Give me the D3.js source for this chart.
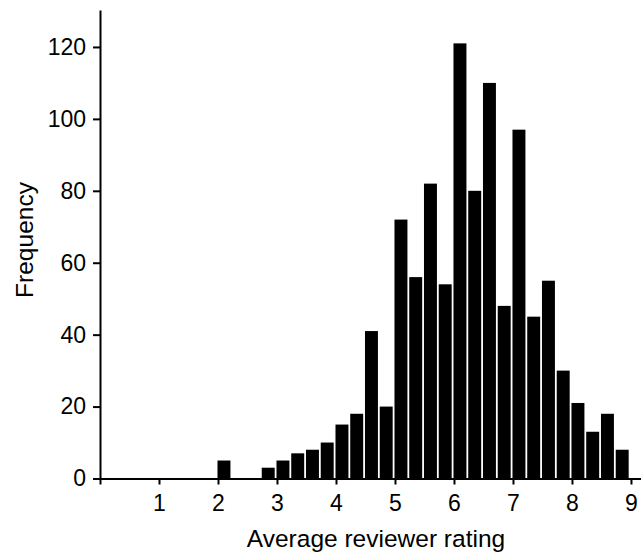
<!DOCTYPE html>
<html>
<head>
<meta charset="utf-8">
<script src="https://cdn.jsdelivr.net/npm/d3@7"></script>
<style>
  html, body { margin: 0; padding: 0; background: #fff; }
  svg { display: block; font-family: "Liberation Sans", Arial, Helvetica, sans-serif; }
  .axis path, .axis line { stroke: #000; stroke-width: 2px; }
  .axis text { fill: #000; font-size: 23px; }
  .label { fill: #000; font-size: 24.5px; }
</style>
</head>
<body>
<svg id="chart" width="641" height="554"></svg>
<script>
// histogram bins (lower edge of each 0.25-wide bin) and counts
const binWidth = 0.25;
const binStarts = [2.0, 2.25, 2.5, 2.75, 3.0, 3.25, 3.5, 3.75, 4.0, 4.25, 4.5, 4.75,
                   5.0, 5.25, 5.5, 5.75, 6.0, 6.25, 6.5, 6.75, 7.0, 7.25, 7.5, 7.75,
                   8.0, 8.25, 8.5, 8.75];
const counts = [5, 0, 0, 3, 5, 7, 8, 10, 15, 18, 41, 20,
                72, 56, 82, 54, 121, 80, 110, 48, 97, 45, 55, 30,
                21, 13, 18, 8];
const xTicks = [0, 1, 2, 3, 4, 5, 6, 7, 8, 9];
const yTicks = [0, 20, 40, 60, 80, 100, 120];

const svg = d3.select("#chart");

// scales: x(0)=100, x(9)=631, axis line runs to the right edge
const x = d3.scaleLinear().domain([0, 9.17]).range([100, 641]);
const y = d3.scaleLinear().domain([0, 130]).range([478.5, 11]);

const bins = binStarts.map((b, i) => ({ x0: b, x1: b + binWidth, n: counts[i] }));

// bars
svg.append("g")
    .selectAll("rect")
    .data(bins.filter(d => d.n > 0))
    .enter().append("rect")
    .attr("x", d => x(d.x0) - 0.5)
    .attr("width", d => x(d.x1) - x(d.x0) - 1.8)
    .attr("y", d => y(d.n))
    .attr("height", d => y(0) - y(d.n))
    .attr("fill", "#000");

// x axis
svg.append("g")
    .attr("class", "axis")
    .attr("transform", `translate(0,${y(0)})`)
    .call(d3.axisBottom(x)
        .tickValues(xTicks)
        .tickFormat(d => d === 0 ? "" : d)
        .tickSize(6)
        .tickSizeOuter(0)
        .tickPadding(10));

// y axis
svg.append("g")
    .attr("class", "axis")
    .attr("transform", `translate(${x(0)},0)`)
    .call(d3.axisLeft(y)
        .tickValues(yTicks)
        .tickSize(7)
        .tickSizeOuter(0)
        .tickPadding(7));

svg.selectAll(".axis .domain").attr("stroke-linecap", "square");

// axis titles
svg.append("text")
    .attr("class", "label")
    .attr("x", 376)
    .attr("y", 546.5)
    .attr("text-anchor", "middle")
    .text("Average reviewer rating");

svg.append("text")
    .attr("class", "label")
    .attr("transform", "translate(33,240) rotate(-90)")
    .attr("text-anchor", "middle")
    .text("Frequency");
</script>
</body>
</html>
